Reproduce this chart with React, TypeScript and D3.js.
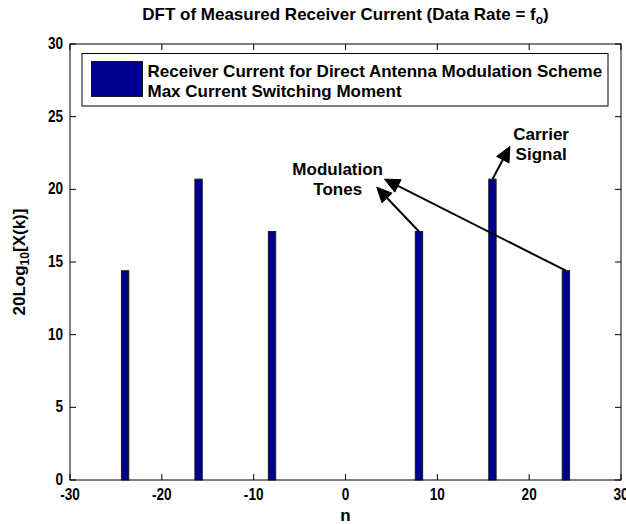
import React from 'react';
import * as d3 from 'd3';

const W = 626;
const H = 524;

// DFT bins with non-zero magnitude (n) and their level in dB
const harmonicIndex = [-24, -16, -8, 8, 16, 24];
const magnitudeDb = [14.4, 20.7, 17.1, 17.1, 20.7, 14.4];

const xTicks = [-30, -20, -10, 0, 10, 20, 30];
const yTicks = [0, 5, 10, 15, 20, 25, 30];

const titleMain = 'DFT of Measured Receiver Current (Data Rate = f';
const titleSub = 'o';
const xLabel = 'n';
const yLabelMain = '20Log';
const yLabelSub = '10';
const yLabelTail = '[X(k)]';
const legendLines = [
  'Receiver Current for Direct Antenna Modulation Scheme',
  'Max Current Switching Moment',
];

// Annotation arrows: start at the top of bar n, end at a tip in data units
const arrowFromBin = [8, 24, 16];
const arrowTipX = [3.4, 4.25, 17.9];
const arrowTipY = [20.15, 20.7, 22.95];

// Annotation captions (first-line baseline in data units)
const noteLines = [
  ['Modulation', 'Tones'],
  ['Carrier', 'Signal'],
];
const noteX = [-0.85, 21.3];
const noteY = [21.0, 23.4];

const FONT = '"Liberation Sans", Arial, Helvetica, sans-serif';
const NAVY = '#00008f';

export default function App() {
  const left = 70;
  const right = 621;
  const top = 44;
  const bottom = 480;

  const x = d3.scaleLinear().domain([-30, 30]).range([left, right]);
  const y = d3.scaleLinear().domain([0, 30]).range([bottom, top]);
  const barW = x(0.4) - x(-0.4);
  const tickLen = 6;
  const cx = (left + right) / 2;
  const cy = (top + bottom) / 2;

  const valueAt = (n: number) => magnitudeDb[harmonicIndex.indexOf(n)];

  const arrows = arrowFromBin.map((n, i) => {
    const x0 = x(n);
    const y0 = y(valueAt(n));
    const x1 = x(arrowTipX[i]);
    const y1 = y(arrowTipY[i]);
    const dx = x1 - x0;
    const dy = y1 - y0;
    const len = Math.hypot(dx, dy);
    const ux = dx / len;
    const uy = dy / len;
    const headLen = 15;
    const headHalf = 7;
    const bx = x1 - ux * headLen;
    const by = y1 - uy * headLen;
    const head = [
      [x1, y1],
      [bx - uy * headHalf, by + ux * headHalf],
      [bx + uy * headHalf, by - ux * headHalf],
    ];
    return { x0, y0, bx, by, head };
  });

  const textStyle = {
    fontFamily: FONT,
    fontWeight: 'bold' as const,
    fontSize: 17,
    fill: '#000',
  };

  return (
    <svg
      width={W}
      height={H}
      style={{ position: 'absolute', left: 0, top: 0, display: 'block', background: '#fff' }}
    >
      <rect x={0} y={0} width={W} height={H} fill="#fff" />

      {/* title */}
      <text x={cx} y={20} textAnchor="middle" style={textStyle}>
        {titleMain}
        <tspan dy={4} fontSize={12}>{titleSub}</tspan>
        <tspan dy={-4}>)</tspan>
      </text>

      {/* bars */}
      {harmonicIndex.map((n, i) => (
        <rect
          key={n}
          x={x(n) - barW / 2}
          y={y(magnitudeDb[i])}
          width={barW}
          height={y(0) - y(magnitudeDb[i])}
          fill={NAVY}
          stroke="#1a1a1a"
          strokeWidth={1}
        />
      ))}

      {/* axes box */}
      <rect x={left} y={top} width={right - left} height={bottom - top} fill="none" stroke="#000" strokeWidth={1} />

      {/* x ticks */}
      {xTicks.map((t) => (
        <g key={'xt' + t}>
          <line x1={x(t)} x2={x(t)} y1={bottom} y2={bottom - tickLen} stroke="#000" />
          <line x1={x(t)} x2={x(t)} y1={top} y2={top + tickLen} stroke="#000" />
          <g transform={`translate(${x(t)},${500})`}>
            <text transform="scale(0.8,1)" textAnchor="middle" style={textStyle}>
              {t}
            </text>
          </g>
        </g>
      ))}

      {/* y ticks */}
      {yTicks.map((t) => (
        <g key={'yt' + t}>
          <line x1={left} x2={left + tickLen} y1={y(t)} y2={y(t)} stroke="#000" />
          <line x1={right} x2={right - tickLen} y1={y(t)} y2={y(t)} stroke="#000" />
          <g transform={`translate(${63},${y(t) + 5})`}>
            <text transform="scale(0.8,1)" textAnchor="end" style={textStyle}>
              {t}
            </text>
          </g>
        </g>
      ))}

      {/* axis labels */}
      <text x={cx} y={521} textAnchor="middle" style={textStyle}>
        {xLabel}
      </text>
      <text transform={`translate(25,${cy}) rotate(-90)`} textAnchor="middle" style={textStyle}>
        {yLabelMain}
        <tspan dy={4} fontSize={12}>{yLabelSub}</tspan>
        <tspan dy={-4}>{yLabelTail}</tspan>
      </text>

      {/* legend */}
      <g>
        <rect x={82} y={53.5} width={526} height={52.5} fill="#fff" stroke="#000" strokeWidth={1} />
        <rect x={91.5} y={61.5} width={51} height={35} fill={NAVY} stroke="#1a1a1a" strokeWidth={1} />
        <text x={147.5} y={77} style={textStyle}>{legendLines[0]}</text>
        <text x={147.5} y={97} style={textStyle}>{legendLines[1]}</text>
      </g>

      {/* annotation arrows */}
      {arrows.map((a, i) => (
        <g key={'ar' + i}>
          <line x1={a.x0} y1={a.y0} x2={a.bx} y2={a.by} stroke="#000" strokeWidth={2} />
          <polygon points={a.head.map((p) => p.join(',')).join(' ')} fill="#000" stroke="#000" strokeWidth={1} />
        </g>
      ))}

      {/* annotation captions */}
      {noteLines.map((lines, i) => (
        <text key={'nt' + i} x={x(noteX[i])} y={y(noteY[i])} textAnchor="middle" style={textStyle}>
          {lines.map((s, j) => (
            <tspan key={j} x={x(noteX[i])} dy={j === 0 ? 0 : 20}>
              {s}
            </tspan>
          ))}
        </text>
      ))}
    </svg>
  );
}
